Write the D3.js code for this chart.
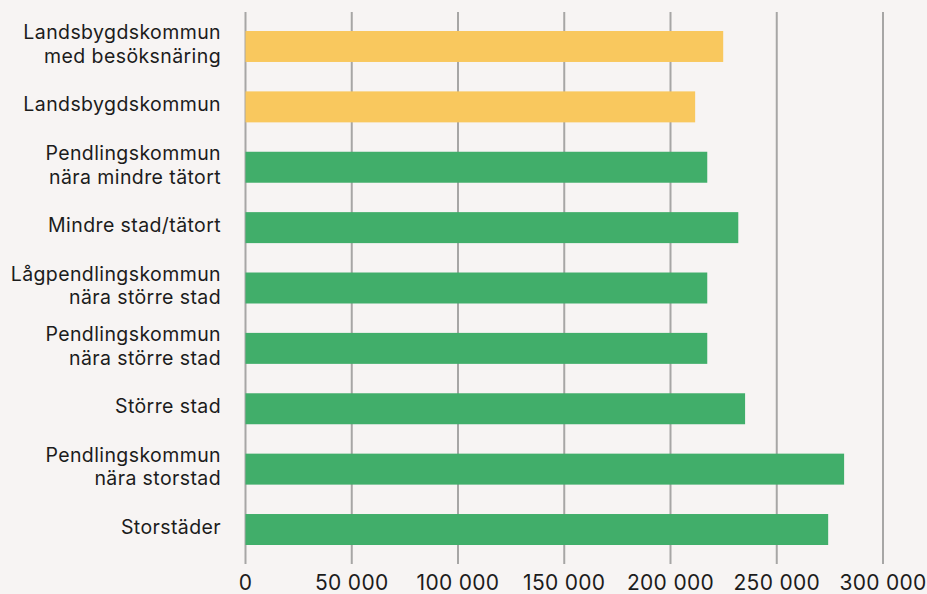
<!DOCTYPE html>
<html>
<head>
<meta charset="utf-8">
<script src="https://cdn.jsdelivr.net/npm/d3@7/dist/d3.min.js"></script>
<style>
  html, body { margin: 0; padding: 0; background: #f7f4f3; }
  svg { display: block; }
  text { font-family: Inter, "Noto Sans", sans-serif; fill: #1c1c1c; }
</style>
</head>
<body>
<svg id="chart" width="927" height="594"></svg>
<script>
// Data
const categories = [
  ["Landsbygdskommun", "med besöksnäring"],
  ["Landsbygdskommun"],
  ["Pendlingskommun", "nära mindre tätort"],
  ["Mindre stad/tätort"],
  ["Lågpendlingskommun", "nära större stad"],
  ["Pendlingskommun", "nära större stad"],
  ["Större stad"],
  ["Pendlingskommun", "nära storstad"],
  ["Storstäder"]
];
const values = [224800, 211600, 217300, 231900, 217300, 217300, 235100, 281700, 274200];
const groups = ["rural", "rural", "urban", "urban", "urban", "urban", "urban", "urban", "urban"];
const tickValues = [0, 50000, 100000, 150000, 200000, 250000, 300000];
const tickLabels = ["0", "50 000", "100 000", "150 000", "200 000", "250 000", "300 000"];

const colors = { rural: "#f9c85e", urban: "#41ae6a" };

const svg = d3.select("#chart");
const x = d3.scaleLinear().domain([0, 300000]).range([245.5, 883]);
const y = d3.scaleBand().domain(d3.range(categories.length)).range([16.3, 559.7])
  .paddingInner(0.487).paddingOuter(0.2435);

// Gridlines
svg.append("g").selectAll("line").data(tickValues).join("line")
  .attr("x1", d => x(d)).attr("x2", d => x(d))
  .attr("y1", 12).attr("y2", 564)
  .attr("stroke", "#a7a6a5").attr("stroke-width", 2);

// Bars
svg.append("g").selectAll("rect").data(values).join("rect")
  .attr("x", x(0))
  .attr("y", (d, i) => y(i))
  .attr("width", d => x(d) - x(0))
  .attr("height", y.bandwidth())
  .attr("fill", (d, i) => colors[groups[i]]);

// Category labels
const lh = 23.5;
const labels = svg.append("g").selectAll("text").data(categories).join("text")
  .attr("text-anchor", "end")
  .attr("font-size", 19.5)
  .attr("letter-spacing", 0.4)
  .attr("x", 221)
  .attr("y", (d, i) => y(i) + y.bandwidth() / 2 + 4.6);
labels.each(function(lines) {
  const t = d3.select(this);
  const n = lines.length;
  lines.forEach((ln, k) => {
    t.append("tspan").attr("x", 221)
      .attr("dy", k === 0 ? (-(n - 1) * lh / 2) : lh)
      .text(ln);
  });
});

// X tick labels
svg.append("g").selectAll("text").data(tickValues).join("text")
  .attr("text-anchor", "middle")
  .attr("font-size", 21)
  .attr("letter-spacing", 0.3)
  .attr("x", d => x(d))
  .attr("y", 590)
  .text((d, i) => tickLabels[i]);
</script>
</body>
</html>
